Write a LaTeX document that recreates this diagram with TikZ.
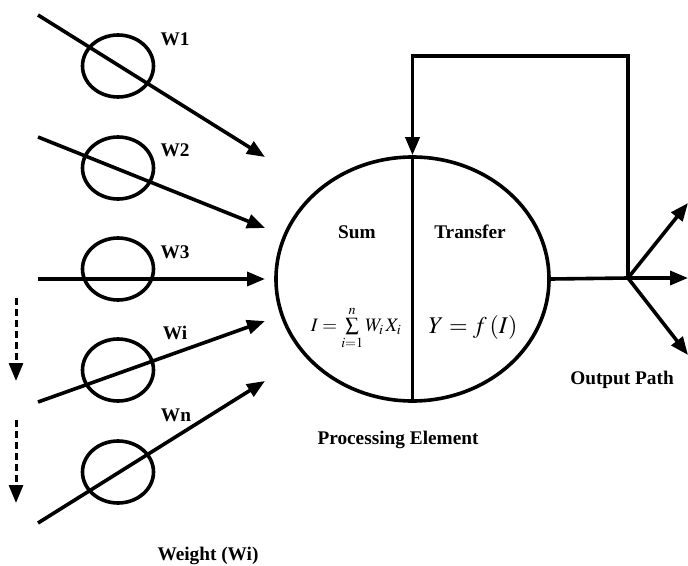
\documentclass[tikz,border=0pt]{standalone}
\usepackage{mathptmx}
\usepackage{fontspec}
\setmainfont{Liberation Serif}
\usetikzlibrary{arrows.meta,shapes.geometric}
\begin{document}
\begin{tikzpicture}[x=1pt,y=-1pt, line width=3.6pt,
  wt/.style={ellipse, draw, minimum width=71pt, minimum height=62pt, inner sep=0pt},
  lbl/.style={font=\fontsize{19.3}{23}\selectfont\bfseries, inner sep=0pt},
  arr/.style={-{Triangle[length=18pt,width=14pt]}},
  dsh/.style={arr, line width=3pt, dash pattern=on 7pt off 4pt}]
\useasboundingbox (0,0) rectangle (688,565);
% weight circles
\node[wt] (w1) at (118,66) {};
\node[wt] (w2) at (118,168) {};
\node[wt] (w3) at (118,269) {};
\node[wt] (w4) at (118,370) {};
\node[wt] (w5) at (118,472) {};
% input arrows
\coordinate (s1) at (38,15);  \coordinate (t1) at (265,157);
\coordinate (s2) at (38,137); \coordinate (t2) at (265,228);
\coordinate (s3) at (38,279); \coordinate (t3) at (265,279);
\coordinate (s4) at (38,402); \coordinate (t4) at (265,321);
\coordinate (s5) at (38,523); \coordinate (t5) at (265,381);
\draw[arr] (s1) -- (t1);
\draw[arr] (s2) -- (t2);
\draw[arr] (s3) -- (t3);
\draw[arr] (s4) -- (t4);
\draw[arr] (s5) -- (t5);
% labels
\node[lbl] (l1) at (175,39) {W1};
\node[lbl] (l2) at (175,150) {W2};
\node[lbl] (l3) at (175,252) {W3};
\node[lbl] (l4) at (175,333) {Wi};
\node[lbl] (l5) at (176,415) {Wn};
\node[lbl] (lw) at (208,556) {Weight (Wi)};
% dashed arrows
\coordinate (d1s) at (16,298); \coordinate (d1e) at (16,381);
\coordinate (d2s) at (16,420); \coordinate (d2e) at (16,503);
\draw[dsh] (d1s) -- (d1e);
\draw[dsh] (d2s) -- (d2e);
% processing element
\node[ellipse, draw, minimum width=273pt, minimum height=244pt, inner sep=0pt] (pe) at (412.5,279) {};
\draw (pe.north) -- (pe.south);
\node[lbl] (sum) at (357,232) {Sum};
\node[lbl] (tr) at (470,232) {Transfer};
\node[font=\fontsize{19}{22}\selectfont, inner sep=0pt] (f1) at (356,328) {$I=\sum\limits_{i=1}^{n}W_i\,X_i$};
\node[font=\fontsize{24}{28}\selectfont, inner sep=0pt] (f2) at (473,327) {$Y=f\,(I)$};
\node[lbl] (lpe) at (398,440) {Processing Element};
% output and feedback
\coordinate (j) at (628,278);
\coordinate (top) at (628,56);
\draw (pe.east) -- (j);
\draw[arr] (j) -- (top) -| (pe.north);
\coordinate (o1) at (688,203);
\coordinate (o2) at (688,278);
\coordinate (o3) at (688,355);
\draw[arr] (j) -- (o1);
\draw[arr] (j) -- (o2);
\draw[arr] (j) -- (o3);
\node[lbl] (lop) at (622,380) {Output Path};
\end{tikzpicture}
\end{document}
